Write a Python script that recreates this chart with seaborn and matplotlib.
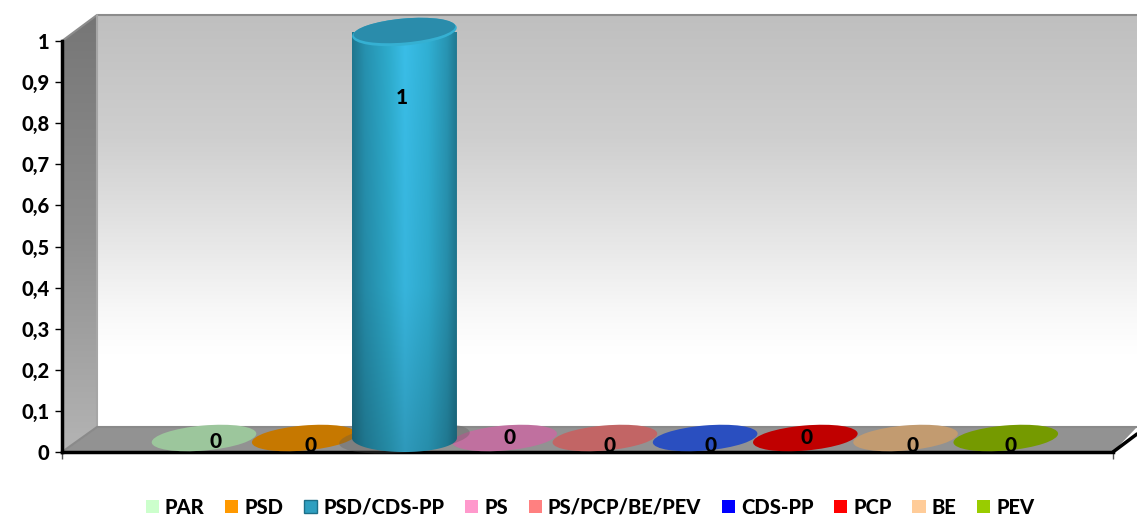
import numpy as np
import matplotlib
matplotlib.use('Agg')
import matplotlib.pyplot as plt
import seaborn as sns
from matplotlib.colors import LinearSegmentedColormap
from matplotlib.patches import Ellipse, Patch, PathPatch, Polygon
from matplotlib.path import Path
from matplotlib.transforms import IdentityTransform

# Data
parties = ['PAR', 'PSD', 'PSD/CDS-PP', 'PS', 'PS/PCP/BE/PEV', 'CDS-PP', 'PCP', 'BE', 'PEV']
votes = [0, 0, 1, 0, 0, 0, 0, 0, 0]
y_ticks = [0, 0.1, 0.2, 0.3, 0.4, 0.5, 0.6, 0.7, 0.8, 0.9, 1]

# Colours
legend_colors = ['#ccffcc', '#ff9900', '#2f9fc0', '#ff99cc', '#ff8080', '#0000ff', '#ff0000', '#ffcc99', '#99cc00']
disc_colors = ['#9cc69c', '#c67800', '#2f9fc0', '#c0709f', '#c26565', '#2a4fc0', '#c00000', '#c29b70', '#759a00']

# label offsets from the disc centre, in pixels
label_dx = [12, 6, -3, 5, 5, 5, 1, 7, 5]
label_dy = [-3, -7, -1, 0, -7, -7, 0, -7, -7]

W, H = 1137, 516
TEXT_WEIGHT = 900
sns.set_theme(style='white')
plt.rcParams['font.family'] = ['Lato', 'DejaVu Sans']

fig = plt.figure(figsize=(W / 100, H / 100), dpi=100)


def px_axes(left, top, right, bottom):
    return fig.add_axes([left / W, 1 - bottom / H, (right - left) / W, (bottom - top) / H])


# Walls and floor, in pixel coordinates
bg = fig.add_axes([0, 0, 1, 1])
bg.set_xlim(0, W)
bg.set_ylim(H, 0)
bg.axis('off')

wall_cmap = LinearSegmentedColormap.from_list('wall', [
    (0, '#bfbfbf'), (0.3, '#cfcfcf'), (0.5, '#e2e2e2'), (0.72, '#f8f8f8'), (0.82, '#ffffff'), (1, '#ffffff')])
side_cmap = LinearSegmentedColormap.from_list('side', ['#767676', '#8f8f8f', '#b4b4b4'])
grad = np.linspace(0, 1, 256).reshape(-1, 1)

bg.imshow(grad, cmap=wall_cmap, extent=(97, W, 427, 15), aspect='auto')
side = Polygon([(62, 41), (97, 15), (97, 427), (62, 452)], closed=True, fc='none', ec='none')
bg.add_patch(side)
side_img = bg.imshow(grad, cmap=side_cmap, extent=(62, 97, 452, 15), aspect='auto')
side_img.set_clip_path(side)
bg.add_patch(Polygon([(62, 452), (97, 427), (W, 427), (1113, 452)], closed=True, fc='#929292', ec='none'))
bg.plot([62, 97, W], [41, 15, 15], color='#8c8c8c', lw=1.5)
bg.plot([97, 97], [15, 427], color='#a6a6a6', lw=1.5)
bg.plot([62, 97, W], [452, 427, 427], color='#8a8a8a', lw=1.5)
bg.plot([1113, W], [452, 434], color='black', lw=2.5)
bg.set_xlim(0, W)
bg.set_ylim(H, 0)

# Front axis frame carrying the ticks
xlim = (-1.417, 9.07)
ax = px_axes(62, 41, 1113, 452)
ax.patch.set_alpha(0)
ax.set_xlim(xlim)
ax.set_ylim(0, 1)
ax.set_yticks(y_ticks)
ax.set_yticklabels([str(t).replace('.', ',') for t in y_ticks], fontsize=14.5, color='black', fontweight=TEXT_WEIGHT)
ax.set_xticks(xlim)
ax.set_xticklabels([])
ax.tick_params(axis='y', length=5, width=1, color='black', left=True, pad=4)
ax.tick_params(axis='x', length=5, width=1, color='#555555', bottom=True)
for s in ['top', 'right']:
    ax.spines[s].set_visible(False)
for s in ['left', 'bottom']:
    ax.spines[s].set_linewidth(2.5)
    ax.spines[s].set_color('black')

# Layer set back from the front axis, the columns stand here
depth = px_axes(62, 32, 1113, 438)
depth.patch.set_alpha(0)
sns.barplot(x=parties, y=votes, hue=parties, palette=legend_colors, width=1.05,
            legend=False, saturation=1, ax=depth)
for bar in depth.patches:
    bar.set_visible(False)  # the gradient fill below takes their place
depth.set_xlim(xlim)
depth.set_ylim(0, 1)
depth.axis('off')
fig.canvas.draw()

DISC_W, DISC_H, TILT = 105, 25, 5
to_px = depth.transData.transform

for i, (v, c) in enumerate(zip(votes, disc_colors)):
    cx, cy = to_px((i, v))
    if v == 0:
        depth.add_patch(Ellipse((cx, cy), DISC_W, DISC_H, angle=TILT, fc=c, ec='none', clip_on=False,
                                transform=IdentityTransform(), zorder=3))
    else:
        base_x, base_y = to_px((i, 0))
        # shadow on the floor
        depth.add_patch(Ellipse((base_x, base_y), DISC_W + 26, DISC_H + 4, angle=TILT, fc='#555555', ec='none',
                                alpha=0.3, clip_on=False, transform=IdentityTransform(), zorder=3.5))
        # column body: straight sides and a rounded foot, filled with a gradient
        arc = np.linspace(0, np.pi, 60)
        foot = np.column_stack([base_x + DISC_W / 2 * np.cos(arc), base_y - (DISC_H + 3) / 2 * np.sin(arc)])
        outline_pts = np.vstack([[(cx - DISC_W / 2, cy), (cx + DISC_W / 2, cy)], foot, [(cx - DISC_W / 2, cy)]])
        outline = PathPatch(Path(outline_pts, closed=True), fc='none', ec='none',
                            clip_on=False, transform=IdentityTransform())
        depth.add_patch(outline)
        across = np.array([0.0, 0.12, 0.35, 0.5, 0.72, 0.9, 1.0])
        pos = np.linspace(0, 1, 200)
        r = np.interp(pos, across, [32, 38, 46, 58, 48, 40, 30])
        g = np.interp(pos, across, [118, 145, 172, 190, 176, 148, 118])
        b = np.interp(pos, across, [142, 175, 205, 232, 212, 178, 142])
        fade = np.interp(np.linspace(0, 1, 300), [0, 0.6, 1], [1.0, 0.95, 0.8]).reshape(-1, 1, 1)
        rgb = np.stack([r, g, b], axis=-1)[None, :, :] * fade / 255
        img = depth.imshow(rgb, extent=(i - 0.525, i + 0.525, -0.05, v), aspect='auto', zorder=4)
        img.set_clip_box(fig.bbox)  # the foot hangs below the axes
        img.set_clip_path(outline)
        # column top
        depth.add_patch(Ellipse((cx, cy), DISC_W, DISC_H + 2, angle=TILT, fc='#35b0d2', ec='none',
                                transform=IdentityTransform(), zorder=5, clip_on=False))
        depth.add_patch(Ellipse((cx, cy + 1.5), DISC_W - 3, DISC_H - 1, angle=TILT, fc='#2a8cab', ec='none',
                                transform=IdentityTransform(), zorder=6, clip_on=False))
depth.set_xlim(xlim)
depth.set_ylim(0, 1)

# Value labels
for i, v in enumerate(votes):
    if v == 0:
        depth.annotate(str(v), (i, v), xytext=(label_dx[i] * 0.72, label_dy[i] * 0.72), textcoords='offset points',
                       ha='center', va='center', fontsize=15, fontweight=TEXT_WEIGHT, color='black',
                       zorder=8, annotation_clip=False)
    else:
        depth.annotate(str(v), (i, 0.84), xytext=(label_dx[i] * 0.72, label_dy[i] * 0.72), textcoords='offset points',
                       ha='center', va='center', fontsize=15, fontweight=TEXT_WEIGHT, color='black', zorder=8)

# Legend
handles = [Patch(fc=c, ec='#1d6f88' if p == 'PSD/CDS-PP' else 'none', label=p)
           for p, c in zip(parties, legend_colors)]
fig.legend(handles=handles, loc='center', bbox_to_anchor=(590 / W, 1 - 507 / H), ncol=len(parties),
           frameon=False, prop={'size': 14.5, 'weight': TEXT_WEIGHT}, labelcolor='black',
           handlelength=0.65, handleheight=0.65, handletextpad=0.3, columnspacing=1.03, borderpad=0)

fig.savefig('out.png', dpi=100)
